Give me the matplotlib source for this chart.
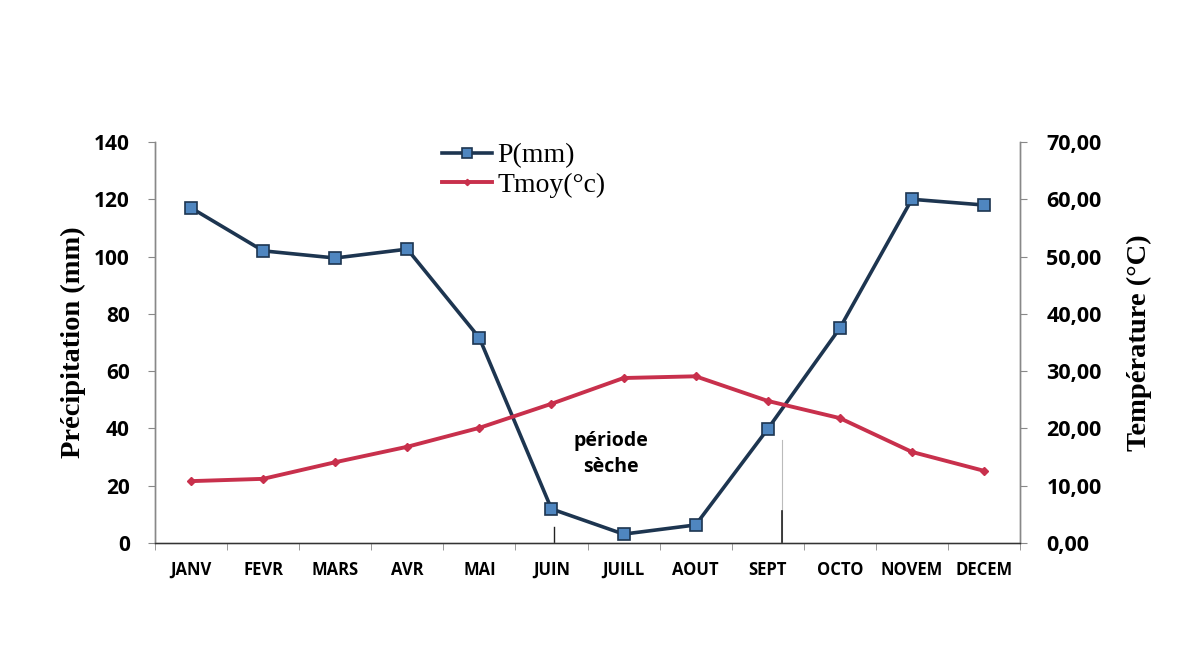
import matplotlib
matplotlib.use("Agg")
import matplotlib.pyplot as plt
from matplotlib.ticker import FixedLocator, FuncFormatter
import numpy as np

months = ["JANV", "FEVR", "MARS", "AVR", "MAI", "JUIN", "JUILL", "AOUT",
          "SEPT", "OCTO", "NOVEM", "DECEM"]
precip = [117, 102, 99.5, 102.6, 71.6, 11.9, 3.1, 6.3, 39.8, 75, 120, 118]
temp = [10.8, 11.2, 14.1, 16.8, 20.1, 24.3, 28.8, 29.1, 24.8, 21.8, 15.9, 12.6]
left_ticks = [0, 20, 40, 60, 80, 100, 120, 140]
right_ticks = [0, 10, 20, 30, 40, 50, 60, 70]

fig = plt.figure(figsize=(11.83, 6.52), dpi=100)
ax = fig.add_axes([155/1183, 1-543/652, 865/1183, 401/652])
ax2 = ax.twinx()

x = np.arange(len(months))
ax.plot(x, precip, color="#1d3550", lw=2.6, marker="s", ms=9,
        mfc="#4f86c0", mec="#1d3550", mew=1.2, label="P(mm)", zorder=3)
ax2.plot(x, temp, color="#c8304c", lw=2.8, marker="D", ms=4,
         mfc="#c8304c", mec="#c8304c", label="Tmoy(°c)", zorder=3)

# small vertical marks bounding the dry period (as in the scanned figure)
ax.plot([5.03, 5.03], [0, 5.5], color="#222222", lw=1.0, zorder=2)
ax.plot([8.2, 8.2], [0, 36], color="#bbbbbb", lw=0.8, zorder=2)
ax.plot([8.2, 8.2], [0, 11], color="#222222", lw=1.2, zorder=2)

ax.set_xlim(-0.5, 11.5)
ax.set_ylim(0, 140)
ax2.set_ylim(0, 70)
ax.set_yticks(left_ticks)
ax2.set_yticks(right_ticks)
ax2.yaxis.set_major_formatter(FuncFormatter(lambda v, p: f"{v:.2f}".replace(".", ",")))

ax.set_xticks(x)
ax.set_xticklabels(months)
ax.xaxis.set_minor_locator(FixedLocator(np.arange(-0.5, 12, 1)))
ax.tick_params(axis="x", which="major", length=0, pad=13)
ax.tick_params(axis="x", which="minor", length=5, color="#888888")

sans = ["Open Sans", "DejaVu Sans"]
for lab in ax.get_yticklabels():
    lab.set_fontsize(15); lab.set_fontfamily(sans); lab.set_fontweight("bold")
for lab in ax2.get_yticklabels():
    lab.set_fontsize(15.5); lab.set_fontfamily(sans); lab.set_fontweight("bold")
for lab in ax.get_xticklabels():
    lab.set_fontsize(12); lab.set_fontfamily(["Liberation Sans Narrow", "Open Sans", "DejaVu Sans"])
    lab.set_fontweight("bold")

ax.tick_params(axis="y", length=5, color="#888888", pad=13)
ax2.tick_params(axis="y", length=5, color="#888888", pad=14)

for a in (ax, ax2):
    a.spines["top"].set_visible(False)
    for s in ("left", "right", "bottom"):
        a.spines[s].set_color("#888888")
        a.spines[s].set_linewidth(1.0)
ax2.spines["bottom"].set_color("#333333")

serif = ["Liberation Serif", "DejaVu Serif"]
ax.set_ylabel("Précipitation (mm)", fontsize=20.5, fontweight="bold", family=serif, labelpad=6)
ax2.set_ylabel("Température (°C)", fontsize=20.5, fontweight="bold", family=serif, labelpad=18)

ax.text(5.82, 31, "période\nsèche", ha="center", va="center", fontsize=14,
        fontweight="bold", family=sans, linespacing=1.4)

h1, l1 = ax.get_legend_handles_labels()
h2, l2 = ax2.get_legend_handles_labels()
leg = ax2.legend(h1 + h2, l1 + l2, loc="upper left", bbox_to_anchor=(0.303, 1.06),
                 frameon=False, prop={"family": serif, "size": 20},
                 handlelength=1.8, handletextpad=0.2, labelspacing=0.15,
                 markerscale=0.8)

fig.savefig("out.png", dpi=100, facecolor="white")
